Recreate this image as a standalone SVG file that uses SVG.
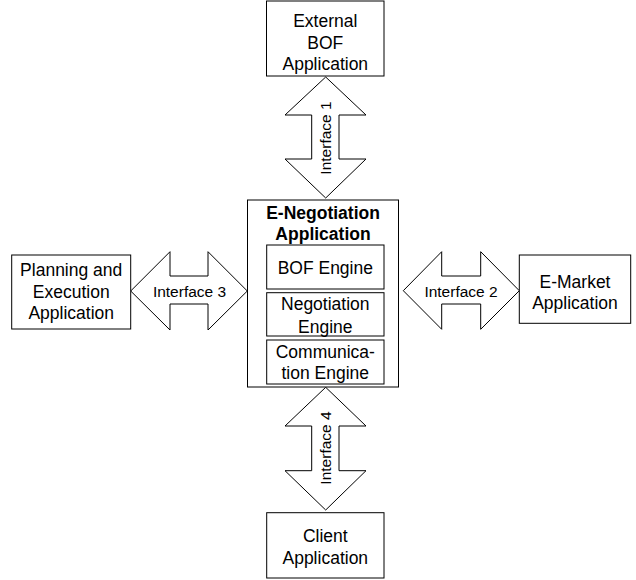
<svg xmlns="http://www.w3.org/2000/svg" width="636" height="580" viewBox="0 0 636 580">
<style>
.box{fill:#fff;stroke:#000;stroke-width:1}
.arr{fill:#fff;stroke:#000;stroke-width:1;stroke-linejoin:miter}
text{font-family:"Liberation Sans",Arial,sans-serif;font-size:17.5px;fill:#000;text-anchor:middle}
.b{font-weight:bold}
.lbl{font-size:15.5px}
</style>
<rect width="636" height="580" fill="#fff"/>
<g id="connectors">
<g id="interface1"><polygon class="arr" points="325.7,77 366,115 339,115 339,159 366,159 325.7,198 285,159 311.7,159 311.7,115 285,115"/><text class="lbl" transform="translate(331,138) rotate(-90)">Interface 1</text></g>
<g id="interface4"><polygon class="arr" points="325.7,387.3 366,426 339,426 339,470.7 366,470.7 325.7,510 285,470.7 311.7,470.7 311.7,426 285,426"/><text class="lbl" transform="translate(331,448) rotate(-90)">Interface 4</text></g>
<g id="interface3"><polygon class="arr" points="130.7,291 170,251.7 170,276 208,276 208,251.7 247.3,291 208,330 208,304 170,304 170,330"/><text class="lbl" x="189.5" y="296.5">Interface 3</text></g>
<g id="interface2"><polygon class="arr" points="403.3,290.7 441.7,251.7 441.7,276 480.7,276 480.7,251.7 519.3,290.7 480.7,329.3 480.7,304 441.7,304 441.7,329.3"/><text class="lbl" x="461" y="296.5">Interface 2</text></g>
</g>
<g id="external-bof"><rect class="box" x="266.5" y="1" width="117.5" height="75"/><text x="325.3" y="26.5">External</text><text x="325.3" y="48.5">BOF</text><text x="325.3" y="70">Application</text></g>
<g id="planning"><rect class="box" x="11.7" y="255" width="119" height="74"/><text x="71.2" y="276">Planning and</text><text x="71.2" y="297.5">Execution</text><text x="71.2" y="318.5">Application</text></g>
<g id="emarket"><rect class="box" x="519.3" y="255" width="111.4" height="68.3"/><text x="575" y="287.5">E-Market</text><text x="575" y="309">Application</text></g>
<g id="client"><rect class="box" x="266.7" y="512.7" width="117.3" height="65.3"/><text x="325.3" y="542">Client</text><text x="325.3" y="563.5">Application</text></g>
<g id="enegotiation"><rect class="box" x="247.5" y="200" width="151" height="187"/><text class="b" x="323" y="218.5">E-Negotiation</text><text class="b" x="323" y="239.5">Application</text>
<g id="bof-engine"><rect class="box" x="266.7" y="245" width="117.3" height="44"/><text x="325.3" y="273.5">BOF Engine</text></g>
<g id="negotiation-engine"><rect class="box" x="266.7" y="292.7" width="117.3" height="43.3"/><text x="325.3" y="310.3">Negotiation</text><text x="325.3" y="332.5">Engine</text></g>
<g id="communication-engine"><rect class="box" x="266.7" y="340" width="117.3" height="44"/><text x="325.3" y="357.7">Communica-</text><text x="325.3" y="379.3">tion Engine</text></g>
</g>
</svg>
